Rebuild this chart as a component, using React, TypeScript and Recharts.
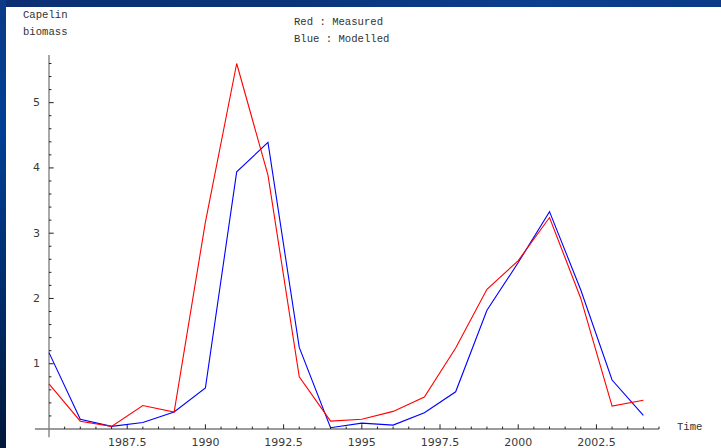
import React from 'react';
import { LineChart, Line, XAxis, YAxis, ReferenceLine } from 'recharts';

// Capelin biomass per year
const years = [1985, 1986, 1987, 1988, 1989, 1990, 1991, 1992, 1993, 1994, 1995, 1996, 1997, 1998, 1999, 2000, 2001, 2002, 2003, 2004];
const measured = [0.69, 0.12, 0.04, 0.36, 0.26, 3.17, 5.6, 3.89, 0.8, 0.12, 0.15, 0.27, 0.49, 1.24, 2.14, 2.58, 3.24, 2.0, 0.35, 0.44];
const modelled = [1.17, 0.15, 0.04, 0.1, 0.26, 0.63, 3.94, 4.39, 1.25, 0.02, 0.09, 0.06, 0.25, 0.57, 1.82, 2.55, 3.33, 2.13, 0.75, 0.21];

const xTickLabels = [1987.5, 1990, 1992.5, 1995, 1997.5, 2000, 2002.5];
const yTickLabels = [1, 2, 3, 4, 5];

const X_MIN = 1985;
const X_MAX = 2004.5;
const Y_MAX = 5.73;

const data = years.map((year, i) => ({ year, measured: measured[i], modelled: modelled[i] }));

// minor tick positions: every half year on x, every 0.2 on y
const xTicks: number[] = [];
for (let k = 1; k <= 39; k++) xTicks.push(X_MIN + k * 0.5);
const yTicks: number[] = [];
for (let k = 1; k <= 28; k++) yTicks.push(Math.round(k * 2) / 10);

const isLabelled = (list: number[], v: number) => list.some((t) => Math.abs(t - v) < 1e-6);

const tickFont = "'DejaVu Sans', sans-serif";
const monoFont = "'Liberation Mono', 'DejaVu Sans Mono', monospace";

const XTick = (props: any) => {
  const { x, y, payload } = props;
  const major = isLabelled(xTickLabels, payload.value);
  return (
    <g>
      <line x1={x} x2={x} y1={y} y2={y - (major ? 4.7 : 2.4)} stroke="#222" strokeWidth={1} />
      {major && (
        <text x={x} y={y + 13} textAnchor="middle" dominantBaseline="central" fontFamily={tickFont} fontSize={11} fill="#3a3a3a">
          {payload.value}
        </text>
      )}
    </g>
  );
};

const YTick = (props: any) => {
  const { x, y, payload } = props;
  const major = isLabelled(yTickLabels, payload.value);
  return (
    <g>
      <line x1={x} x2={x + (major ? 4.7 : 2.4)} y1={y} y2={y} stroke="#222" strokeWidth={1} />
      {major && (
        <text x={x - 9} y={y} textAnchor="end" dominantBaseline="central" fontFamily={tickFont} fontSize={11} fill="#3a3a3a">
          {payload.value}
        </text>
      )}
    </g>
  );
};

const textStyle: React.CSSProperties = {
  position: 'absolute',
  fontFamily: monoFont,
  fontSize: 10.6,
  color: '#333',
  whiteSpace: 'pre',
  lineHeight: '12px',
};

export default function App() {
  return (
    <div style={{ position: 'absolute', left: 0, top: 0, width: 721, height: 448, overflow: 'hidden', background: '#fff' }}>
      <div style={{ position: 'absolute', left: 0, top: 0, width: 721, height: 7, background: 'linear-gradient(to right, #0b2f72, #0a3479 40%, #0d3f8f 75%, #0a3a88)' }} />
      <div style={{ position: 'absolute', left: 0, top: 0, width: 6, height: 448, background: 'linear-gradient(to bottom, #0b3a88, #003f95 30%, #002a66 70%, #001838)' }} />
      <div style={{ position: 'absolute', left: 0, top: 0 }}>
        <LineChart width={721} height={448} data={data} margin={{ top: 55, right: 62, bottom: 0, left: 0 }}>
          <XAxis
            dataKey="year"
            type="number"
            domain={[X_MIN, X_MAX]}
            ticks={xTicks}
            interval={0}
            height={19}
            axisLine={false}
            tickLine={false}
            tickSize={0}
            tickMargin={0}
            tick={<XTick />}
          />
          <YAxis
            type="number"
            domain={[0, Y_MAX]}
            ticks={yTicks}
            interval={0}
            width={49}
            axisLine={false}
            tickLine={false}
            tickSize={0}
            tickMargin={0}
            tick={<YTick />}
          />
          <ReferenceLine
            segment={[{ x: 1984.55, y: 0 }, { x: X_MAX, y: 0 }]}
            stroke="#7a7a7a"
            strokeWidth={1.3}
            ifOverflow="visible"
          />
          <ReferenceLine
            segment={[{ x: X_MIN, y: -0.125 }, { x: X_MIN, y: Y_MAX }]}
            stroke="#7a7a7a"
            strokeWidth={1.3}
            ifOverflow="visible"
          />
          <Line dataKey="modelled" stroke="#0000ff" strokeWidth={1.1} dot={false} isAnimationActive={false} />
          <Line dataKey="measured" stroke="#ff0000" strokeWidth={1.1} dot={false} isAnimationActive={false} />
        </LineChart>
      </div>
      <div style={{ ...textStyle, left: 23, top: 9 }}>Capelin</div>
      <div style={{ ...textStyle, left: 23, top: 26 }}>biomass</div>
      <div style={{ ...textStyle, left: 294, top: 16 }}>Red : Measured</div>
      <div style={{ ...textStyle, left: 294, top: 33 }}>Blue : Modelled</div>
      <div style={{ ...textStyle, left: 677, top: 421 }}>Time</div>
    </div>
  );
}
